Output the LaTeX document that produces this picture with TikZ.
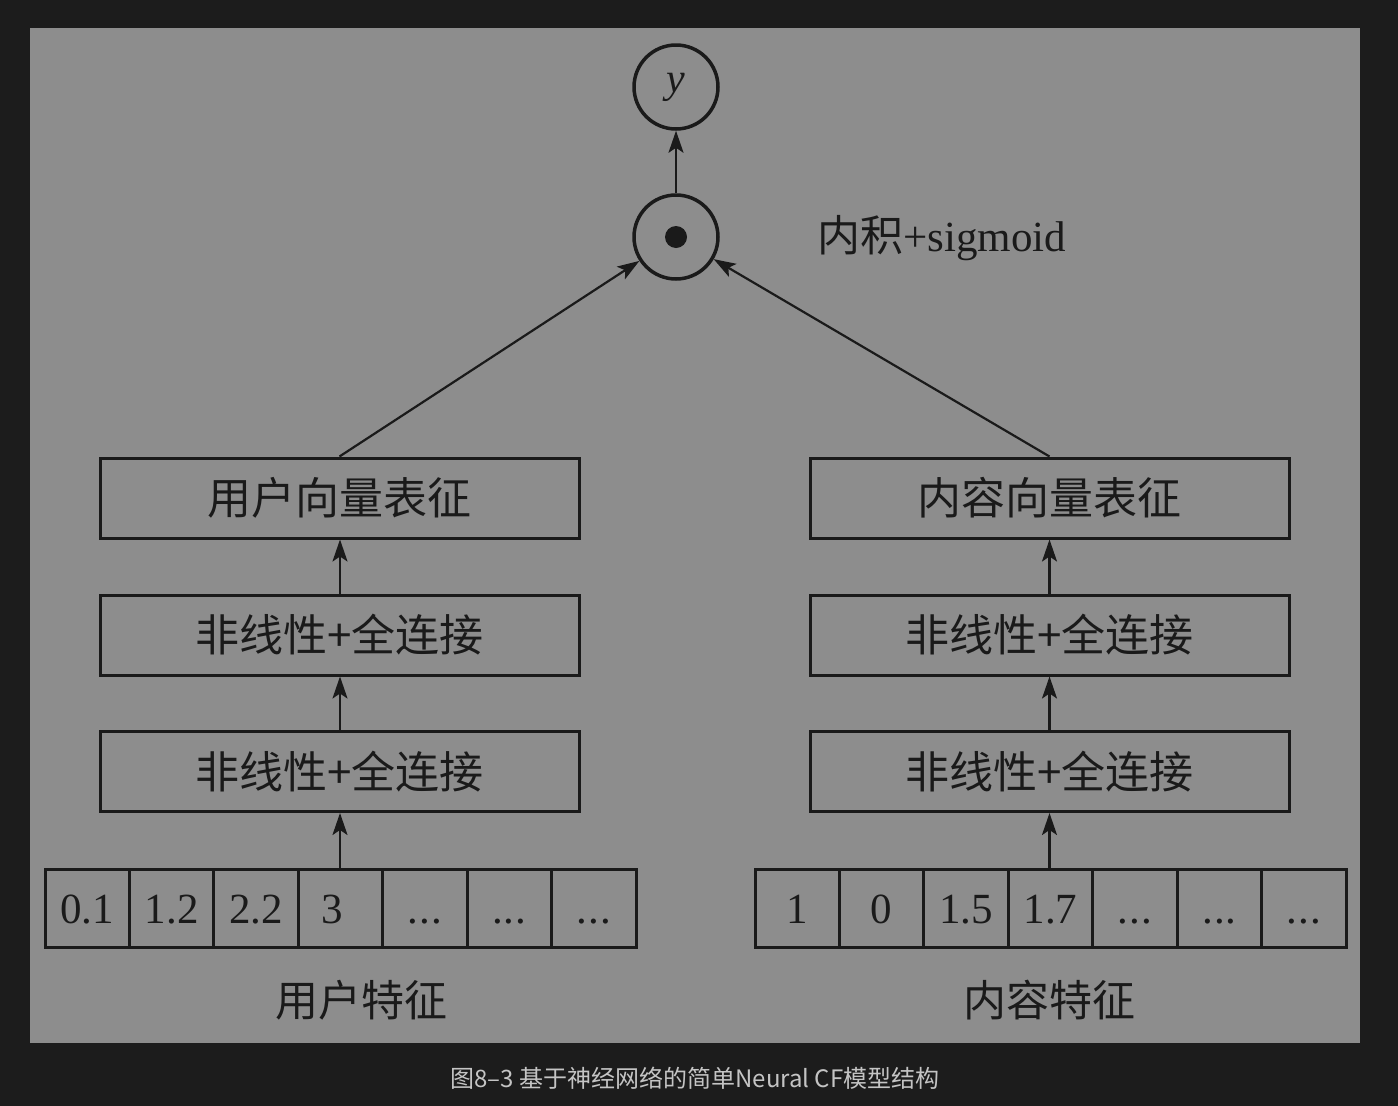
\documentclass[tikz,border=0pt]{standalone}
\usepackage{fontspec}
\setmainfont{Liberation Serif}
\newfontfamily\cjk{Noto Sans CJK SC}
\usetikzlibrary{arrows.meta}
\definecolor{bgdark}{HTML}{1C1C1C}
\definecolor{panel}{HTML}{8D8D8D}
\definecolor{ink}{HTML}{1A1A1A}
\definecolor{capc}{HTML}{C4C4C4}
\newcommand\cdts{.\kern0.02em.\kern0.02em.}
\newcommand\three{\hspace*{-16pt}3}
\begin{document}
\begin{tikzpicture}[x=1pt,y=-1pt,
  layerbox/.style={draw=ink,line width=3pt,minimum width=479pt,minimum height=80pt,inner sep=0pt,text=ink,font=\cjk\fontsize{44}{50}\selectfont},
  cell/.style={draw=ink,line width=3pt,minimum width=84.43pt,minimum height=78pt,inner sep=0pt,text=ink,text height=30pt,text depth=0pt,font=\fontsize{43}{50}\selectfont},
  circ/.style={circle,draw=ink,line width=3.5pt,minimum size=84pt,inner sep=0pt,text=ink},
  arr/.style={draw=ink,line width=2.2pt,-{Stealth[length=22pt,width=15pt,inset=5pt]}},
  lbl/.style={text=ink,font=\cjk\fontsize{43}{50}\selectfont}
]
\useasboundingbox (0,0) rectangle (1398,1106);
\fill[bgdark] (0,0) rectangle (1398,1106);
\fill[panel] (30,28) rectangle (1360,1043);

% top circles
\node[circ] (y) at (676,87) {\fontsize{42}{50}\selectfont\itshape y};
\node[circ] (dot) at (676,237) {};
\fill[ink] (dot.center) circle (11pt);
\node[text=ink,anchor=west,font=\fontsize{43}{50}\selectfont] (ip) at (814,238) {{\cjk 内积}+sigmoid};

% left column
\node[layerbox] (l1) at (339.5,498) {用户向量表征};
\node[layerbox] (l2) at (339.5,635) {非线性+全连接};
\node[layerbox] (l3) at (339.5,771.5) {非线性+全连接};
% right column
\node[layerbox] (r1) at (1049.5,498) {内容向量表征};
\node[layerbox] (r2) at (1049.5,635) {非线性+全连接};
\node[layerbox] (r3) at (1049.5,771.5) {非线性+全连接};

% feature cells
\foreach \t [count=\i from 0] in {0.1,1.2,2.2,\three,\cdts,\cdts,\cdts}{
  \node[cell] (lc\i) at ({45+84.43*(\i+0.5)},908.5) {\t};
}
\foreach \t [count=\i from 0] in {1,0,1.5,1.7,\cdts,\cdts,\cdts}{
  \node[cell] (rc\i) at ({755+84.43*(\i+0.5)},908.5) {\t};
}
\coordinate (lin) at (340,869.5);
\coordinate (rin) at (1049.5,869.5);

\node[lbl] (uf) at (361,1000) {用户特征};
\node[lbl] (cf) at (1049,1000) {内容特征};

\node[text=capc,font=\cjk\fontsize{24}{28}\selectfont] (cap) at (695,1078) {图8–3 基于神经网络的简单Neural CF模型结构};

% arrows
\draw[arr] (lin) -- (l3.south -| lin);
\draw[arr] (l3.north -| lin) -- (l2.south -| lin);
\draw[arr] (l2.north -| lin) -- (l1.south -| lin);
\draw[arr] (rin) -- (r3.south -| rin);
\draw[arr] (r3.north -| rin) -- (r2.south -| rin);
\draw[arr] (r2.north -| rin) -- (r1.south -| rin);
\draw[arr] (l1.north) -- (dot);
\draw[arr] (r1.north) -- (dot);
\draw[arr] (dot) -- (y);
\end{tikzpicture}
\end{document}
